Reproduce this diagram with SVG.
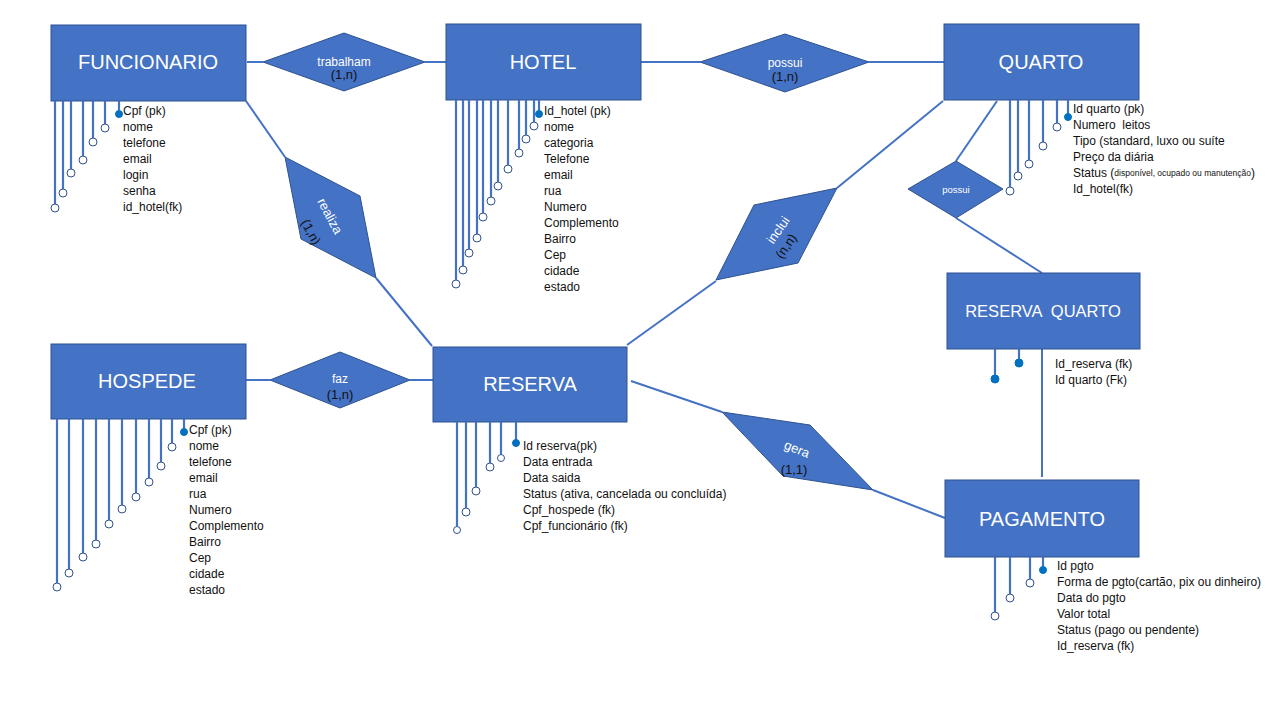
<svg xmlns="http://www.w3.org/2000/svg" width="1280" height="720" viewBox="0 0 1280 720">
<style>
.box{fill:#4472C4;stroke:#2F528F;stroke-width:1}
.dia{fill:#4472C4;stroke:#2F528F;stroke-width:1}
.ln{stroke:#4472C4;stroke-width:2;fill:none}
.at{stroke:#4472C4;stroke-width:2.2;fill:none}
.oc{fill:#fff;stroke:#2F528F;stroke-width:1}
.pk{fill:#0070C0;stroke:#0070C0;stroke-width:1}
.ttl{font-family:"Liberation Sans",Arial,sans-serif;font-size:20px;fill:#fff;text-anchor:middle;dominant-baseline:central}
.rl{font-family:"Liberation Sans",Arial,sans-serif;font-size:12px;fill:#fff;text-anchor:middle;dominant-baseline:central}
.cd{font-family:"Liberation Sans",Arial,sans-serif;font-size:13px;fill:#111;text-anchor:middle;dominant-baseline:central}
.tx{font-family:"Liberation Sans",Arial,sans-serif;font-size:12px;fill:#111;dominant-baseline:central}
.sm{font-size:8.5px}
</style>
<rect width="1280" height="720" fill="#fff"/>
<g id="connectors">
<line class="ln" x1="247" y1="62" x2="263" y2="62"/>
<line class="ln" x1="425" y1="62" x2="446" y2="62"/>
<line class="ln" x1="641" y1="62" x2="700" y2="62"/>
<line class="ln" x1="869" y1="62" x2="944" y2="62"/>
<line class="ln" x1="246" y1="101" x2="285" y2="157"/>
<line class="ln" x1="376" y1="278" x2="432" y2="346"/>
<line class="ln" x1="246" y1="380" x2="270" y2="380"/>
<line class="ln" x1="410" y1="380" x2="433" y2="380"/>
<line class="ln" x1="943" y1="101" x2="837" y2="188"/>
<line class="ln" x1="716" y1="281" x2="627" y2="345"/>
<line class="ln" x1="997" y1="101" x2="956" y2="161"/>
<line class="ln" x1="956" y1="218" x2="1042" y2="273"/>
<line class="ln" x1="1042" y1="349" x2="1042" y2="477"/>
<line class="ln" x1="631" y1="381" x2="722" y2="412"/>
<line class="ln" x1="873" y1="490" x2="945" y2="518"/>
</g>
<g id="rel-trabalham">
<polygon class="dia" points="263,62 344,33 425,62 344,91"/>
<text class="rl" x="344" y="62">trabalham</text>
<text class="cd" x="344" y="74">(1,n)</text>
</g>
<g id="rel-possui-hotel">
<polygon class="dia" points="700,62 785,34 869,62 785,92"/>
<text class="rl" x="785" y="63">possui</text>
<text class="cd" x="785" y="76">(1,n)</text>
</g>
<g id="rel-realiza">
<polygon class="dia" points="285,157 360,196 376,278 301,239"/>
<text class="rl" style="font-size:13px" transform="translate(330,216) rotate(62)" x="0" y="0">realiza</text>
<text class="cd" transform="translate(311,232) rotate(62)" x="0" y="0">(1,n)</text>
</g>
<g id="rel-faz">
<polygon class="dia" points="270,380 340,352 410,380 340,408"/>
<text class="rl" x="340" y="379">faz</text>
<text class="cd" x="340" y="394">(1,n)</text>
</g>
<g id="rel-inclui">
<polygon class="dia" points="754,205 837,188 798,263 716,280"/>
<text class="rl" style="font-size:13px" transform="translate(778,230) rotate(-55)" x="0" y="0">inclui</text>
<text class="cd" transform="translate(786,246) rotate(-55)" x="0" y="0">(n,n)</text>
</g>
<g id="rel-possui-quarto">
<polygon class="dia" points="908,189 956,161 1003,189 956,218"/>
<text class="rl" style="font-size:9.5px" x="956" y="189">possui</text>
</g>
<g id="rel-gera">
<polygon class="dia" points="722,412 810,425 873,490 783,476"/>
<text class="rl" style="font-size:13px" transform="translate(797,449) rotate(22)" x="0" y="0">gera</text>
<text class="cd" x="794" y="469">(1,1)</text>
</g>
<g id="FUNCIONARIO">
<rect class="box" x="51" y="25" width="195" height="76"/>
<text class="ttl" x="148" y="62">FUNCIONARIO</text>
<path class="at" d="M55 101V204M63 101V189M71 101V169M83 101V156M93 101V138M105 101V124M119 101V110"/>
<circle class="oc" cx="55" cy="208" r="4"/>
<circle class="oc" cx="63" cy="193" r="4"/>
<circle class="oc" cx="71" cy="173" r="4"/>
<circle class="oc" cx="83" cy="160" r="4"/>
<circle class="oc" cx="93" cy="142" r="4"/>
<circle class="oc" cx="105" cy="128" r="4"/>
<circle class="pk" cx="119" cy="114" r="3.5"/>
<text class="tx" x="123" y="111">Cpf (pk)</text>
<text class="tx" x="123" y="127">nome</text>
<text class="tx" x="123" y="143">telefone</text>
<text class="tx" x="123" y="159">email</text>
<text class="tx" x="123" y="175">login</text>
<text class="tx" x="123" y="191">senha</text>
<text class="tx" x="123" y="207">id_hotel(fk)</text>
</g>
<g id="HOTEL">
<rect class="box" x="446" y="24" width="195" height="76"/>
<text class="ttl" x="543" y="62">HOTEL</text>
<path class="at" d="M456 100V280M463 100V266M469 100V249M477 100V234M483 100V213M491 100V197M498 100V182M508 100V165M519 100V149M526 100V135M534 100V122M539 100V111"/>
<circle class="oc" cx="456" cy="284" r="4"/>
<circle class="oc" cx="463" cy="270" r="4"/>
<circle class="oc" cx="469" cy="253" r="4"/>
<circle class="oc" cx="477" cy="238" r="4"/>
<circle class="oc" cx="483" cy="217" r="4"/>
<circle class="oc" cx="491" cy="201" r="4"/>
<circle class="oc" cx="498" cy="186" r="4"/>
<circle class="oc" cx="508" cy="169" r="4"/>
<circle class="oc" cx="519" cy="153" r="4"/>
<circle class="oc" cx="526" cy="139" r="4"/>
<circle class="oc" cx="534" cy="126" r="4"/>
<circle class="pk" cx="539" cy="114" r="3.5"/>
<text class="tx" x="544" y="111">Id_hotel (pk)</text>
<text class="tx" x="544" y="127">nome</text>
<text class="tx" x="544" y="143">categoria</text>
<text class="tx" x="544" y="159">Telefone</text>
<text class="tx" x="544" y="175">email</text>
<text class="tx" x="544" y="191">rua</text>
<text class="tx" x="544" y="207">Numero</text>
<text class="tx" x="544" y="223">Complemento</text>
<text class="tx" x="544" y="239">Bairro</text>
<text class="tx" x="544" y="255">Cep</text>
<text class="tx" x="544" y="271">cidade</text>
<text class="tx" x="544" y="287">estado</text>
</g>
<g id="QUARTO">
<rect class="box" x="944" y="24" width="195" height="76"/>
<text class="ttl" x="1041" y="62">QUARTO</text>
<path class="at" d="M1010 100V187M1018 100V172M1029 100V160M1043 100V142M1057 100V123M1068 100V114"/>
<circle class="oc" cx="1010" cy="191" r="4"/>
<circle class="oc" cx="1018" cy="176" r="4"/>
<circle class="oc" cx="1029" cy="164" r="4"/>
<circle class="oc" cx="1043" cy="146" r="4"/>
<circle class="oc" cx="1057" cy="127" r="4"/>
<circle class="pk" cx="1068" cy="117" r="3.5"/>
<text class="tx" x="1073" y="109">Id quarto (pk)</text>
<text class="tx" x="1073" y="125" xml:space="preserve">Numero  leitos</text>
<text class="tx" x="1073" y="141">Tipo (standard, luxo ou suíte</text>
<text class="tx" x="1073" y="157">Preço da diária</text>
<text class="tx" x="1073" y="173">Status (<tspan class="sm">disponível, ocupado ou manutenção</tspan>)</text>
<text class="tx" x="1073" y="189">Id_hotel(fk)</text>
</g>
<g id="RESERVA_QUARTO">
<rect class="box" x="947" y="273" width="193" height="76"/>
<text class="ttl" style="font-size:16.5px" x="1043" y="311" xml:space="preserve">RESERVA  QUARTO</text>
<path class="at" d="M995 349V378M1019 349V363"/>
<circle class="pk" cx="995" cy="379" r="4"/>
<circle class="pk" cx="1019" cy="363" r="4"/>
<text class="tx" x="1055" y="364">Id_reserva (fk)</text>
<text class="tx" x="1055" y="380">Id quarto (Fk)</text>
</g>
<g id="HOSPEDE">
<rect class="box" x="51" y="344" width="195" height="75"/>
<text class="ttl" x="147" y="381">HOSPEDE</text>
<path class="at" d="M57 419V583M69 419V569M83 419V553M96 419V540M109 419V520M122 419V505M136 419V493M149 419V478M161 419V462M172 419V443M184 419V430"/>
<circle class="oc" cx="57" cy="587" r="4"/>
<circle class="oc" cx="69" cy="573" r="4"/>
<circle class="oc" cx="83" cy="557" r="4"/>
<circle class="oc" cx="96" cy="544" r="4"/>
<circle class="oc" cx="109" cy="524" r="4"/>
<circle class="oc" cx="122" cy="509" r="4"/>
<circle class="oc" cx="136" cy="497" r="4"/>
<circle class="oc" cx="149" cy="482" r="4"/>
<circle class="oc" cx="161" cy="466" r="4"/>
<circle class="oc" cx="172" cy="447" r="4"/>
<circle class="pk" cx="184" cy="432" r="3.5"/>
<text class="tx" x="189" y="430">Cpf (pk)</text>
<text class="tx" x="189" y="446">nome</text>
<text class="tx" x="189" y="462">telefone</text>
<text class="tx" x="189" y="478">email</text>
<text class="tx" x="189" y="494">rua</text>
<text class="tx" x="189" y="510">Numero</text>
<text class="tx" x="189" y="526">Complemento</text>
<text class="tx" x="189" y="542">Bairro</text>
<text class="tx" x="189" y="558">Cep</text>
<text class="tx" x="189" y="574">cidade</text>
<text class="tx" x="189" y="590">estado</text>
</g>
<g id="RESERVA">
<rect class="box" x="433" y="347" width="194" height="75"/>
<text class="ttl" x="530" y="384">RESERVA</text>
<path class="at" d="M457 422V526M466 422V508M476 422V487M490 422V463M501 422V454M516 422V441"/>
<circle class="oc" cx="457" cy="530" r="3.5"/>
<circle class="oc" cx="466" cy="512" r="4"/>
<circle class="oc" cx="476" cy="491" r="4"/>
<circle class="oc" cx="490" cy="467" r="4"/>
<circle class="oc" cx="501" cy="458" r="3.5"/>
<circle class="pk" cx="516" cy="443" r="3.5"/>
<text class="tx" x="523" y="446">Id reserva(pk)</text>
<text class="tx" x="523" y="462">Data entrada</text>
<text class="tx" x="523" y="478">Data saida</text>
<text class="tx" x="523" y="494">Status (ativa, cancelada ou concluída)</text>
<text class="tx" x="523" y="510">Cpf_hospede (fk)</text>
<text class="tx" x="523" y="526">Cpf_funcionário (fk)</text>
</g>
<g id="PAGAMENTO">
<rect class="box" x="945" y="480" width="194" height="77"/>
<text class="ttl" x="1042" y="519">PAGAMENTO</text>
<path class="at" d="M995 557V612M1010 557V594M1030 557V579M1043 557V567"/>
<circle class="oc" cx="995" cy="616" r="4"/>
<circle class="oc" cx="1010" cy="598" r="4"/>
<circle class="oc" cx="1030" cy="583" r="4"/>
<circle class="pk" cx="1043" cy="570" r="3.5"/>
<text class="tx" x="1057" y="566">Id pgto</text>
<text class="tx" x="1057" y="582">Forma de pgto(cartão, pix ou dinheiro)</text>
<text class="tx" x="1057" y="598">Data do pgto</text>
<text class="tx" x="1057" y="614">Valor total</text>
<text class="tx" x="1057" y="630">Status (pago ou pendente)</text>
<text class="tx" x="1057" y="646">Id_reserva (fk)</text>
</g>
</svg>
